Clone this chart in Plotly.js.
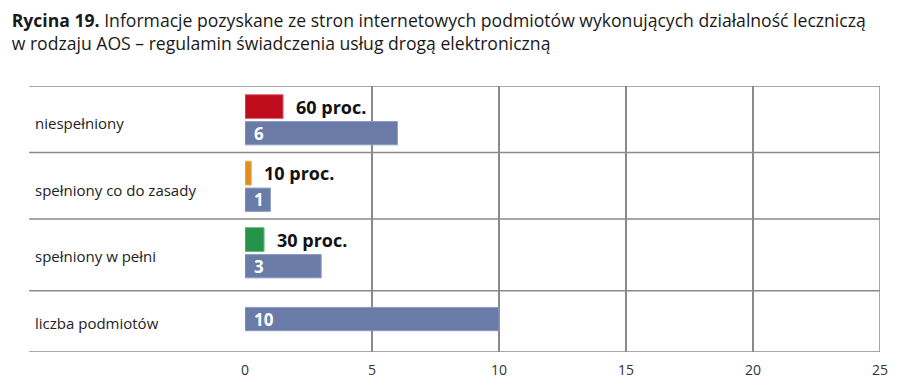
<!DOCTYPE html>
<html><head><meta charset="utf-8">
<script src="https://cdn.plot.ly/plotly-3.0.1.min.js"></script>
<style>html,body{margin:0;padding:0;background:#fff}#chart{width:900px;height:391px}</style>
</head><body><div id="chart"></div>
<script>
// ---- data ----
const categories = ['niespełniony', 'spełniony co do zasady', 'spełniony w pełni', 'liczba podmiotów'];
const percentLabels = ['60 proc.', '10 proc.', '30 proc.', null];
const percentBarValues = [1.5, 0.25, 0.75, null];
const counts = [6, 1, 3, 10];
const xTicks = [0, 5, 10, 15, 20, 25];
const titleBold = 'Rycina 19.';
const titleRest = 'Informacje pozyskane ze stron internetowych podmiotów wykonujących działalność leczniczą<br>w rodzaju AOS – regulamin świadczenia usług drogą elektroniczną';

// ---- styles ----
const FONT = 'Open Sans, sans-serif';
const pctColors = ['#C00D1E', '#E0901A', '#27924A', '#ffffff'];
const pctLines = ['#E06C78', '#F0B868', '#6CBC84', '#ffffff'];
const countColor = '#6A7BA8';
const countLine = '#8A9AC4';
const gridColor = '#8a8a8a';

const pos = categories.map((c, i) => i);
const pctOffset = -0.37, pctWidth = 0.36;
const countOffsets = [0.035, 0.035, 0.035, -0.17];
const countWidth = 0.35;

const traces = [
  {
    type: 'bar', orientation: 'h', x: percentBarValues, y: pos,
    offset: pctOffset, width: pctWidth,
    marker: {color: pctColors, line: {color: pctLines, width: 1}},
    hoverinfo: 'skip', showlegend: false
  },
  {
    type: 'bar', orientation: 'h', x: counts, y: pos,
    offset: countOffsets, width: countWidth,
    marker: {color: countColor, line: {color: countLine, width: 1}},
    hoverinfo: 'skip', showlegend: false
  }
];

const sepY = [-0.5, 0.5, 1.5, 2.58, 3.5];
const shapes = sepY.map(y => ({
  type: 'line', xref: 'paper', x0: -0.34, x1: 1, yref: 'y', y0: y, y1: y,
  line: {color: gridColor, width: 1.5}, layer: 'above'
}));
shapes.push({type: 'line', xref: 'x', x0: 25, x1: 25, yref: 'paper', y0: 0, y1: 1,
  line: {color: gridColor, width: 1.5}});

const annotations = [];
categories.forEach((c, i) => {
  annotations.push({xref: 'paper', x: -0.334, xanchor: 'left', yref: 'y', y: i, yanchor: 'middle',
    yshift: -4, text: c, showarrow: false, font: {family: FONT, size: 15, color: '#222'}});
});
percentLabels.forEach((t, i) => {
  if (t === null) return;
  annotations.push({xref: 'x', x: percentBarValues[i], xanchor: 'left', xshift: 11, yref: 'y',
    y: i + pctOffset + pctWidth / 2, yanchor: 'middle', text: '<b>' + t + '</b>', showarrow: false,
    font: {family: FONT, size: 18, color: '#111'}});
});
counts.forEach((v, i) => {
  annotations.push({xref: 'x', x: 0, xanchor: 'left', xshift: 7, yref: 'y',
    y: i + countOffsets[i] + countWidth / 2, yanchor: 'middle', text: '<b>' + v + '</b>', showarrow: false,
    font: {family: FONT, size: 17, color: '#ffffff'}});
});

const layout = {
  width: 900, height: 391,
  margin: {l: 245, r: 20, t: 86, b: 39},
  paper_bgcolor: '#ffffff', plot_bgcolor: '#ffffff',
  font: {family: FONT, color: '#222'},
  title: {text: '<b>' + titleBold + '</b> ' + titleRest, x: 0.013, xref: 'container', xanchor: 'left',
    y: 0.93, yref: 'container', yanchor: 'top', font: {family: FONT, size: 17.6, color: '#1a1a1a'}},
  xaxis: {range: [0, 25], tickvals: xTicks, ticktext: xTicks.map(String), showgrid: true,
    gridcolor: gridColor, gridwidth: 1.5, zeroline: false, showline: false, ticks: '',
    ticklabelstandoff: 8, tickfont: {family: FONT, size: 14, color: '#333'}, fixedrange: true},
  yaxis: {range: [3.5, -0.5], showgrid: false, zeroline: false, showticklabels: false,
    showline: false, ticks: '', fixedrange: true},
  shapes: shapes, annotations: annotations, bargap: 0
};

Plotly.newPlot('chart', traces, layout, {displayModeBar: false, staticPlot: true});
</script></body></html>
